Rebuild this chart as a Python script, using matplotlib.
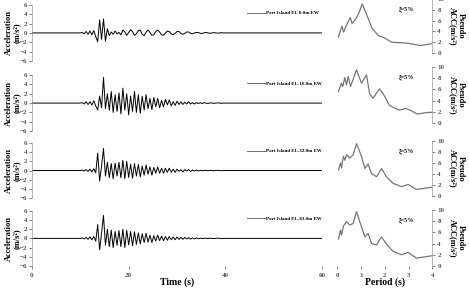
import numpy as np
import matplotlib
matplotlib.use('Agg')
import matplotlib.pyplot as plt

# ---- data ----
depth_labels = ['Port Island EL 0.0m EW', 'Port Island EL-16.0m EW',
                'Port Island EL-32.0m EW', 'Port Island EL-83.0m EW']

# sample times of the digitised records (s)
t_acc = [0.0] + list(np.round(np.arange(10.0, 39.7, 0.4), 1)) + [60.0]

acc_00 = [0.0,
          0.0, 0.1, -0.2, 0.3, -0.3, 0.4, -0.4, 0.5, -0.8, -1.9,
          2.8, -1.4, 3.0, -1.8, 0.9, -0.6, 0.2, -0.3, 0.4, -0.2,
          0.1, -0.4, 0.6, 0.2, -0.5, 0.1, 0.7, 0.3, -0.5, -0.2,
          0.5, 0.6, -0.3, -0.6, 0.2, 0.6, 0.1, -0.5, -0.4, 0.3,
          0.6, 0.2, -0.4, -0.5, 0.0, 0.4, 0.3, -0.2, -0.4, -0.1,
          0.3, 0.3, -0.1, -0.3, -0.1, 0.2, 0.2, -0.1, -0.2, 0.0,
          0.1, 0.1, -0.1, -0.1, 0.0, 0.1, 0.0, -0.1, 0.0, 0.05,
          0.0, -0.05, 0.0, 0.05, 0.0,
          0.0]
acc_16 = [0.0,
          0.0, 0.1, -0.2, 0.3, -0.3, 0.3, -0.4, 0.5, -0.6, -1.5,
          1.5, -1.0, 5.5, -1.2, 2.0, -1.5, 2.5, -2.0, 1.8, -1.8,
          2.2, -2.3, 3.2, -1.5, 2.0, -2.5, 1.5, -1.8, 2.5, -2.0,
          1.8, -2.2, 1.5, -1.5, 1.8, -1.2, 1.0, -1.4, 1.2, -0.8,
          1.0, -1.0, 0.6, -0.8, 0.8, -0.4, 0.7, -0.6, 0.3, -0.5,
          0.4, -0.3, 0.3, -0.3, 0.2, -0.2, 0.3, -0.2, 0.1, -0.2,
          0.1, -0.1, 0.1, -0.1, 0.1, 0.0, -0.1, 0.05, 0.0, -0.05,
          0.0, 0.05, 0.0, -0.05, 0.0,
          0.0]
acc_32 = [0.0,
          0.0, 0.1, -0.1, 0.2, -0.2, 0.3, -0.3, 0.4, -0.5, 3.8,
          -2.3, 1.0, 4.8, -1.2, 1.8, -1.6, 1.5, -1.8, 1.6, -1.2,
          1.8, -1.6, 2.2, -1.8, 2.0, -1.5, 1.4, -1.7, 1.5, -1.2,
          1.3, -1.4, 1.0, -1.0, 1.2, -0.8, 0.8, -1.0, 0.7, -0.6,
          0.8, -0.6, 0.5, -0.6, 0.5, -0.4, 0.5, -0.4, 0.3, -0.4,
          0.3, -0.2, 0.2, -0.3, 0.2, -0.1, 0.2, -0.2, 0.1, -0.1,
          0.1, -0.1, 0.05, -0.05, 0.05, 0.0, -0.05, 0.05, 0.0, -0.05,
          0.0, 0.05, 0.0, -0.05, 0.0,
          0.0]
acc_83 = [0.0,
          0.0, 0.1, -0.1, 0.2, -0.2, 0.3, -0.3, 0.4, -0.6, 3.0,
          -2.5, 1.2, 5.0, -1.5, 2.0, -1.8, 1.8, -2.0, 1.5, -1.5,
          1.7, -1.8, 2.0, -2.0, 1.8, -1.4, 1.5, -1.6, 1.4, -1.3,
          1.2, -1.2, 1.0, -0.9, 1.1, -0.8, 0.7, -0.9, 0.6, -0.6,
          0.7, -0.5, 0.5, -0.5, 0.4, -0.4, 0.4, -0.3, 0.3, -0.3,
          0.3, -0.2, 0.2, -0.2, 0.2, -0.1, 0.15, -0.15, 0.1, -0.1,
          0.1, -0.1, 0.05, -0.05, 0.05, 0.0, -0.05, 0.05, 0.0, -0.05,
          0.0, 0.05, 0.0, -0.05, 0.0,
          0.0]

# pseudo acceleration spectra (xi = 5%)
T_00 = [0.05, 0.2, 0.27, 0.41, 0.55, 0.62, 0.76, 0.9, 1.05, 1.25, 1.46, 1.74, 1.95, 2.3, 2.93, 3.5, 3.78, 3.95]
sa_00 = [3.0, 5.0, 3.9, 5.4, 6.6, 5.5, 6.2, 7.3, 9.1, 7.0, 4.6, 3.2, 2.9, 2.0, 1.85, 1.4, 1.6, 1.7]
T_16 = [0.05, 0.18, 0.23, 0.32, 0.39, 0.46, 0.56, 0.81, 1.02, 1.23, 1.36, 1.5, 1.78, 1.92, 2.2, 2.6, 2.88, 3.15, 3.36, 3.86, 4.0]
sa_16 = [5.6, 7.1, 6.5, 8.1, 6.8, 8.3, 6.5, 9.5, 7.1, 8.6, 5.3, 4.4, 6.1, 5.3, 3.1, 2.3, 2.6, 2.1, 1.6, 1.9, 1.9]
T_32 = [0.05, 0.14, 0.18, 0.26, 0.32, 0.39, 0.53, 0.67, 0.81, 1.02, 1.16, 1.3, 1.44, 1.65, 1.86, 2.07, 2.35, 2.7, 2.98, 3.33, 3.68, 3.96]
sa_32 = [4.7, 6.0, 5.1, 7.2, 6.5, 7.5, 6.9, 7.5, 9.5, 7.2, 5.0, 5.8, 4.1, 3.5, 5.0, 3.5, 2.3, 1.7, 2.1, 1.2, 1.4, 1.6]
T_83 = [0.05, 0.14, 0.18, 0.26, 0.39, 0.53, 0.67, 0.81, 1.02, 1.16, 1.3, 1.44, 1.65, 1.86, 2.07, 2.35, 2.7, 2.98, 3.33, 3.96]
sa_83 = [4.8, 6.4, 5.5, 7.1, 7.9, 7.3, 7.6, 9.7, 7.0, 5.2, 5.8, 4.0, 3.75, 5.2, 3.9, 2.6, 2.0, 2.4, 1.4, 1.8]

acc_series = [acc_00, acc_16, acc_32, acc_83]
spec_T = [T_00, T_16, T_32, T_83]
spec_sa = [sa_00, sa_16, sa_32, sa_83]

# ---- layout ----
plt.rcParams['font.family'] = ['Liberation Serif', 'DejaVu Serif']
plt.rcParams['font.weight'] = 'bold'

fig = plt.figure(figsize=(4.69, 2.90), dpi=100)

acc_boxes = [(0.068, 0.790, 0.619, 0.193),
             (0.068, 0.548, 0.619, 0.193),
             (0.068, 0.317, 0.619, 0.190),
             (0.068, 0.083, 0.619, 0.190)]
spec_boxes = [(0.719, 0.817, 0.203, 0.186),
              (0.719, 0.576, 0.203, 0.193),
              (0.719, 0.324, 0.203, 0.190),
              (0.719, 0.083, 0.203, 0.193)]

tick_color = '#555555'

for i in range(4):
    # time history
    ax = fig.add_axes(acc_boxes[i])
    ax.plot(t_acc, acc_series[i], color='black', lw=0.7, label=depth_labels[i])
    ax.set_xlim(0, 60)
    ax.set_ylim(-6, 6)
    ax.set_yticks([-6, -4, -2, 0, 2, 4, 6])
    for s in ['top', 'right', 'bottom']:
        ax.spines[s].set_visible(False)
    ax.spines['left'].set_color('#999999')
    ax.spines['left'].set_linewidth(0.5)
    ax.tick_params(axis='y', labelsize=5, colors=tick_color, length=2, width=0.5, pad=1.5)
    ax.set_ylabel('Acceleration\n(m/s\u00b2)', fontsize=6, fontweight='bold', linespacing=1.05)
    ax.yaxis.set_label_coords(-0.038, 0.5)
    leg = ax.legend(loc='upper left', bbox_to_anchor=(0.735, 0.93), frameon=False,
                    fontsize=3.6, handlelength=3.5, handletextpad=0.3, borderaxespad=0)
    for ln in leg.get_lines():
        ln.set_color('#555555')
        ln.set_linewidth(0.6)
    if i < 3:
        ax.set_xticks([])
    else:
        ax.set_xticks([0, 20, 40, 60])
        ax.tick_params(axis='x', labelsize=5, colors=tick_color, length=2, width=0.5, pad=3)
        ax.set_xlabel('Time (s)', fontsize=7, fontweight='bold', labelpad=0)

    # response spectrum
    sx = fig.add_axes(spec_boxes[i])
    sx.plot(spec_T[i], spec_sa[i], color='#777777', lw=0.9)
    sx.set_xlim(0, 4)
    sx.set_ylim(0, 10)
    sx.set_yticks([0, 2, 4, 6, 8, 10])
    sx.yaxis.tick_right()
    sx.yaxis.set_label_position('right')
    for s in ['top', 'left', 'bottom']:
        sx.spines[s].set_visible(False)
    sx.spines['right'].set_color('#999999')
    sx.spines['right'].set_linewidth(0.5)
    sx.tick_params(axis='y', labelsize=5, colors=tick_color, length=2, width=0.5, pad=1.5)
    sx.set_ylabel('Pseudo\nACC(m/s\u00b2)', fontsize=6, fontweight='bold', rotation=270,
                  va='bottom', linespacing=1.05)
    sx.yaxis.set_label_coords(1.17, 0.5)
    sx.text(2.9, 8.0, '\u03be=5%', fontsize=4.3, ha='center', va='center')
    if i < 3:
        sx.set_xticks([])
    else:
        sx.set_xticks([0, 1, 2, 3, 4])
        sx.tick_params(axis='x', labelsize=5, colors=tick_color, length=2, width=0.5, pad=3)
        sx.set_xlabel('Period (s)', fontsize=7, fontweight='bold', labelpad=0)

fig.savefig('out.png', dpi=100)
